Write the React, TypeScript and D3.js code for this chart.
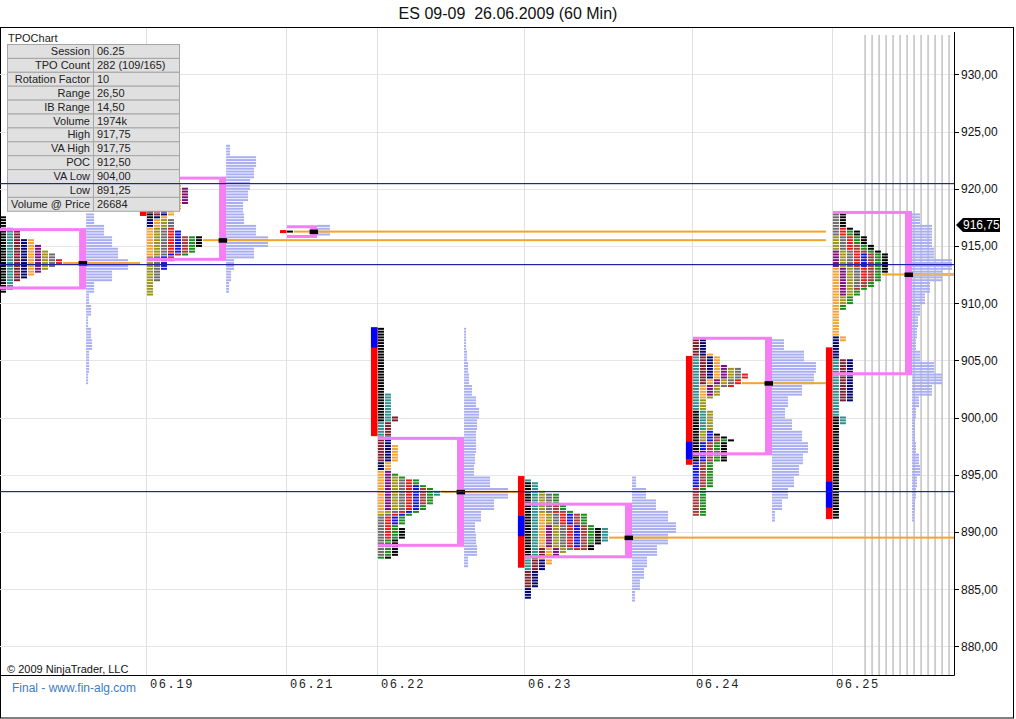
import * as d3 from "d3";

// ---- data ----
const chartTitle = "ES 09-09  26.06.2009 (60 Min)";
const sessionDates = ["06.18", "06.19", "06.21", "06.22", "06.23", "06.24", "06.25"];
// slot (hour column) where each session's TPO starts
const sessionStart = [0, 21, 41, 54, 75, 99, 119];
const vaHigh = [916.25, 920.75, 916.5, 898, 892.25, 906.75, 917.75];
const vaLow = [911.5, 914, 916, 889, 888, 897, 904];
const pocPrice = [913.5, 915.5, 916.25, 893.5, 889.5, 903, 912.5];
const ibLow = [915, 917.75, 916.25, 898.5, 887, 896, 891.25];
const ibHigh = [917.5, 923, 916.25, 907.75, 894.75, 905.25, 906];
const openLow = [916.5, 921.5, NaN, 906.25, 889.75, 896.5, 892.25];
const openHigh = [917.5, 923, NaN, 907.75, 891.25, 897.75, 894.25];

// TPO periods: [low, high] per half-hour bracket
const tpo0618 = [[911, 917.5], [911.25, 916.5], [912, 916.25], [912.25, 915.5], [912.5, 915.5], [912.75, 915], [913, 914.5], [913.25, 914.25], [913.5, 913.75]];
const tpo0619 = [[917.5, 923], [918.25, 922.5], [917.75, 921], [916.75, 920.5], [914.25, 920.25], [918.75, 920], [910.75, 917.25], [912, 917.25], [914.5, 916.5], [913, 916.25], [913.75, 915.75], [914.25, 915.75], [915, 915.75]];
const tpo0621 = [[916.25, 916.25]];
const tpo0622 = [[899.75, 907.75], [898.5, 902], [896.25, 900], [895.5, 898.25], [891.75, 897.5], [892, 895.25], [891.5, 894.75], [888, 894.5], [889.5, 894.5], [890.75, 894], [892.5, 893.75], [887.75, 895], [887.75, 890.25], [893.25, 893.5]];
const tpo0623 = [[888, 894.25], [886.75, 894.5], [885.25, 888.5], [884.25, 887.5], [887.25, 891.5], [888, 890.5], [888.25, 893.5], [888.5, 893.25], [888.5, 891.75], [888.75, 891.5], [888.5, 892.25], [889, 893.25], [888.5, 890.25], [889.25, 890.25]];
const tpo0624 = [[896.25, 900.5], [899, 905.25], [903, 906.75], [903.5, 906.75], [901.75, 905.5], [902, 904.5], [898, 904.25], [902.75, 904.25], [902.75, 903.75], [894, 898.75], [891.5, 898.25], [891.5, 898], [896.25, 898.5]];
const tpo0625 = [[891.25, 900], [899.5, 905], [901.5, 905], [901.5, 907], [906.75, 913], [910.75, 914.5], [910, 915.75], [911.5, 917.75], [912, 916.5], [913.25, 914.25], [911.25, 915], [909.5, 916.25], [912.75, 917.75]];
const tpoPeriods = [tpo0618, tpo0619, tpo0621, tpo0622, tpo0623, tpo0624, tpo0625];

// volume at price, relative units per 1-point bucket, starting at volBase
const volBase = [903, 911, 916, 887, 884, 891, 891];
const vol0618 = [2, 3, 3, 6, 5, 2, 5, 3, 8, 26, 42, 32, 26, 18, 8];
const vol0619 = [3, 5, 8, 28, 42, 30, 18, 17, 22, 24, 28, 30, 4];
const vol0621 = [13];
const vol0622 = [4, 13, 12, 11, 17, 30, 44, 26, 10, 11, 12, 12, 13, 15, 12, 8, 5, 4, 3, 2, 2];
const vol0623 = [3, 8, 12, 15, 25, 36, 44, 36, 24, 14, 4];
const vol0624 = [3, 10, 16, 22, 27, 31, 36, 30, 20, 13, 16, 30, 42, 44, 32, 12];
const vol0625 = [2, 3, 4, 5, 8, 7, 4, 3, 3, 4, 7, 20, 30, 22, 8, 4, 5, 6, 8, 13, 18, 30, 40, 22, 20, 20, 8];
const volumes = [vol0618, vol0619, vol0621, vol0622, vol0623, vol0624, vol0625];

const refLevels = [920.5, 913.4, 893.6];
const lastPrice = 916.75;
const priceTicks = [880, 885, 890, 895, 900, 905, 910, 915, 920, 925, 930];

const tableLabels = ["Session", "TPO Count", "Rotation Factor", "Range", "IB Range", "Volume", "High", "VA High", "POC", "VA Low", "Low", "Volume @ Price"];
const tableValues = ["06.25", "282 (109/165)", "10", "26,50", "14,50", "1974k", "917,75", "917,75", "912,50", "904,00", "891,25", "26684"];

const palette = ["#000000", "#2f8f8f", "#7d1c2c", "#00006e", "#f2a233", "#7a0f7a", "#9c9418", "#6b6b6b", "#e41a1a", "#1414e0", "#a23a3a", "#1a8a1a", "#000000", "#2f8f8f"];

const PLOT_R = 954;
const PLOT_T = 28;
const PLOT_B = 675;
const fmt = (v: number) => v.toFixed(2).replace(".", ",");

export default function App() {
  const x = d3.scaleLinear().domain([0, 136.3]).range([0, PLOT_R]);
  const y = d3.scaleLinear().domain([880, 930]).range([646.3, 74.3]);
  const volW = d3.scaleLinear().domain([0, 45]).range([0, 45]);
  const slot = x(1) - x(0);

  const sessions = sessionDates.map((date, s) => {
    const periods = tpoPeriods[s];
    const lo = d3.min(periods, (d) => d[0]) as number;
    const hi = d3.max(periods, (d) => d[1]) as number;
    const rows = d3.range(Math.round((hi - lo) / 0.25) + 1).map((k) => {
      const p = lo + k * 0.25;
      const ids = periods.map((d, i) => (p >= d[0] - 1e-9 && p <= d[1] + 1e-9 ? i : -1)).filter((i) => i >= 0);
      return { p, ids };
    });
    const maxCols = d3.max(rows, (r) => r.ids.length) as number;
    const start = sessionStart[s];
    const barX = x(start + maxCols + 2.3);
    const pocRow = rows.find((r) => Math.abs(r.p - pocPrice[s]) < 1e-6);
    const pocEnd = x(start + (pocRow ? pocRow.ids.length : 0));
    // naked POC runs until a later session trades through it
    let extEnd = PLOT_R;
    for (let t = s + 1; t < sessionDates.length; t++) {
      const tl = d3.min(tpoPeriods[t], (d) => d[0]) as number;
      const th = d3.max(tpoPeriods[t], (d) => d[1]) as number;
      if (pocPrice[s] >= tl && pocPrice[s] <= th) {
        extEnd = x(sessionStart[t] - 1);
        break;
      }
    }
    const vol = volumes[s].flatMap((v, b) => [0, 0.25, 0.5, 0.75].map((f) => ({ p: volBase[s] + b + f, v })));
    return { date, s, start, rows, barX, pocEnd, extEnd, vol, lo, hi };
  });

  const last = sessions[sessions.length - 1];
  const ly = y(lastPrice) - 1;

  return (
    <svg
      width={1016}
      height={719}
      style={{ position: "absolute", left: 0, top: 0, background: "#fff" }}
      fontFamily="Liberation Sans, Arial, sans-serif"
    >
      <defs>
        <clipPath id="plotClip">
          <rect x={0} y={PLOT_T} width={PLOT_R} height={PLOT_B - PLOT_T} />
        </clipPath>
      </defs>

      <text x={508} y={19} textAnchor="middle" fontSize={16} fill="#111" style={{ whiteSpace: "pre" }}>
        {chartTitle}
      </text>
      <rect x={0.5} y={27.5} width={1013} height={690.5} fill="none" stroke="#000" />

      <g clipPath="url(#plotClip)">
        {/* grid */}
        {priceTicks.map((t) => (
          <line key={t} x1={0} x2={PLOT_R} y1={Math.round(y(t)) + 0.5} y2={Math.round(y(t)) + 0.5} stroke="#e6e6e6" />
        ))}
        {sessions.slice(1).map((d) => (
          <line key={d.date} x1={Math.round(x(d.start)) - 0.5} x2={Math.round(x(d.start)) - 0.5} y1={PLOT_T} y2={PLOT_B} stroke="#e0e0e0" />
        ))}
        {/* remaining brackets of the live session */}
        {d3.range(4.6, 17, 1).map((k) => (
          <line key={k} x1={x(last.start + k)} x2={x(last.start + k)} y1={35} y2={PLOT_B} stroke="#c6c6c6" strokeWidth={1.6} />
        ))}

        {sessions.map((d) => (
          <g key={d.date}>
            {/* volume profile */}
            {d.vol.map((r) => (
              <rect key={r.p} x={d.barX + 7} y={y(r.p) - 1} width={volW(r.v)} height={2} fill="#a9aef2" />
            ))}
            {/* TPO letters as blocks */}
            {d.rows.map((r) =>
              r.ids.map((id, c) => (
                <rect
                  key={`${r.p}-${c}`}
                  x={x(d.start + c)}
                  y={y(r.p) - 1}
                  width={slot - 1}
                  height={2}
                  fill={palette[id % palette.length]}
                />
              ))
            )}
            {/* initial balance */}
            <rect
              x={x(d.start - 1)}
              y={y(ibHigh[d.s]) - 1.5}
              width={slot - 0.5}
              height={y(ibLow[d.s]) - y(ibHigh[d.s]) + 3}
              fill="#ff0000"
            />
            {!isNaN(openLow[d.s]) && (
              <rect
                x={x(d.start - 1)}
                y={y(openHigh[d.s]) - 1.5}
                width={slot - 0.5}
                height={y(openLow[d.s]) - y(openHigh[d.s]) + 3}
                fill="#0000ff"
              />
            )}
            {/* value area */}
            <rect x={x(d.start)} y={y(vaHigh[d.s]) - 3.5} width={d.barX - x(d.start)} height={3} fill="#f57ef5" />
            <rect x={x(d.start)} y={y(vaLow[d.s]) + 0.5} width={d.barX - x(d.start)} height={3} fill="#f57ef5" />
            <rect
              x={d.barX}
              y={y(vaHigh[d.s]) - 3.5}
              width={7}
              height={y(vaLow[d.s]) - y(vaHigh[d.s]) + 7}
              fill="#f57ef5"
            />
            {/* POC */}
            <rect x={d.pocEnd} y={y(pocPrice[d.s]) - 1} width={d.barX - d.pocEnd} height={2} fill="#f2a52a" />
            {d.extEnd > d.barX + 8 && (
              <rect
                x={d.barX + 8}
                y={y(pocPrice[d.s]) - (d.s === sessions.length - 1 ? 1.5 : 1)}
                width={d.extEnd - d.barX - 8}
                height={d.s === sessions.length - 1 ? 3 : 2}
                fill={d.s === sessions.length - 1 ? "#e6b46e" : "#f2a52a"}
              />
            )}
            <rect x={d.barX - 0.5} y={y(pocPrice[d.s]) - 2} width={8.5} height={4.5} fill="#000" />
          </g>
        ))}
      </g>

      {/* info table */}
      <text x={8} y={41.5} fontSize={11} fill="#222">TPOChart</text>
      {tableLabels.map((lab, i) => {
        const ty = 44 + i * 13.9;
        return (
          <g key={lab}>
            <rect x={7.5} y={ty + 0.5} width={86} height={13.9} fill="#e0e0e0" stroke="#a6a6a6" />
            <rect x={93.5} y={ty + 0.5} width={86} height={13.9} fill="#e0e0e0" stroke="#a6a6a6" />
            <text x={90} y={ty + 11} textAnchor="end" fontSize={11} fill="#222">{lab}</text>
            <text x={97} y={ty + 11} fontSize={11} fill="#222">{tableValues[i]}</text>
          </g>
        );
      })}

      {/* reference levels */}
      {refLevels.map((l) => (
        <rect key={l} x={0} y={Math.round(y(l))} width={PLOT_R} height={1.2} fill="#2222a6" />
      ))}

      {/* axes */}
      <line x1={0} x2={PLOT_R + 0.5} y1={PLOT_B + 0.5} y2={PLOT_B + 0.5} stroke="#000" />
      <line x1={PLOT_R + 0.5} x2={PLOT_R + 0.5} y1={32} y2={PLOT_B + 0.5} stroke="#000" />
      {priceTicks.map((t) => (
        <g key={t}>
          <line x1={PLOT_R} x2={PLOT_R + 5} y1={Math.round(y(t)) + 0.5} y2={Math.round(y(t)) + 0.5} stroke="#000" />
          <text x={PLOT_R + 7} y={y(t) + 4.5} fontSize={12} fill="#111">{fmt(t)}</text>
        </g>
      ))}
      <path
        d={`M${PLOT_R + 2},${ly} L${PLOT_R + 9},${ly - 7} L${PLOT_R + 46},${ly - 7} L${PLOT_R + 46},${ly + 7} L${PLOT_R + 9},${ly + 7} Z`}
        fill="#000"
      />
      <text x={PLOT_R + 9} y={ly + 4.5} fontSize={12} fill="#fff">{fmt(lastPrice)}</text>

      {sessions.slice(1).map((d) => (
        <text
          key={d.date}
          x={x(d.start) + 3}
          y={688}
          fontSize={12}
          letterSpacing={1.6}
          fontFamily="Liberation Mono, Courier New, monospace"
          fill="#222"
        >
          {d.date}
        </text>
      ))}

      <text x={7} y={673} fontSize={11} fill="#111">© 2009 NinjaTrader, LLC</text>
      <text x={12} y={692} fontSize={12} fill="#3c7dbf">Final - www.fin-alg.com</text>
    </svg>
  );
}
